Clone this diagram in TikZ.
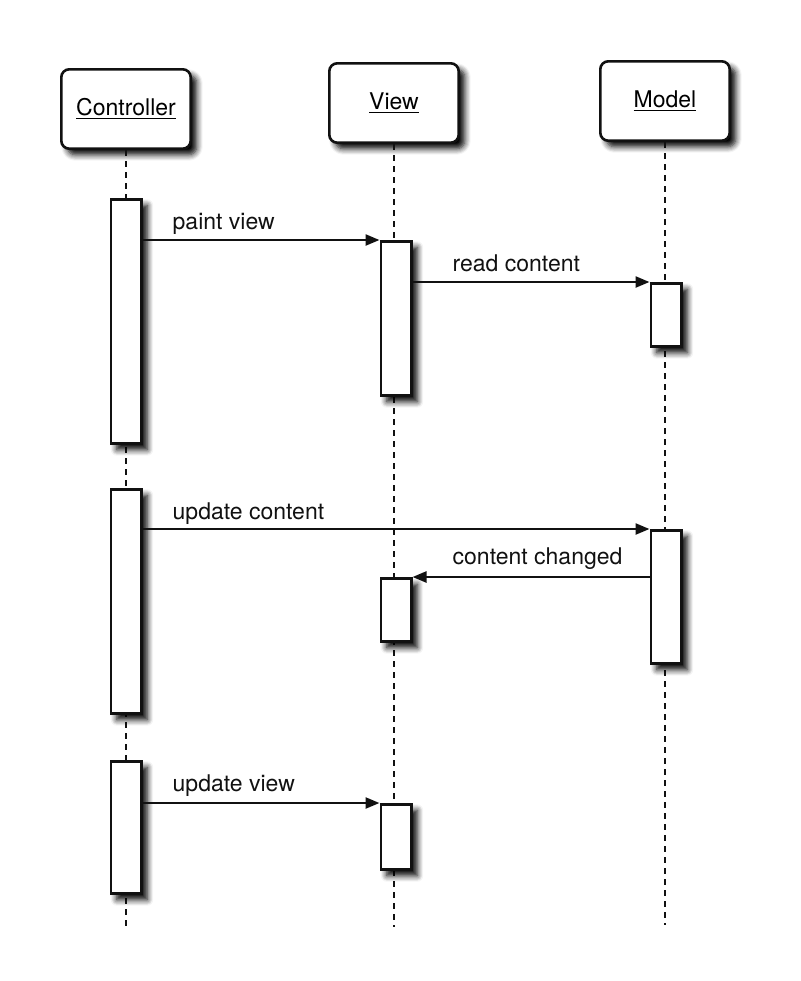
\documentclass[tikz,border=0pt]{standalone}
\usepackage{fontspec}
\setmainfont{TeX Gyre Heros}
\usetikzlibrary{arrows.meta,positioning,calc,shadows.blur}
\definecolor{Ink}{HTML}{111111}
\tikzset{
  fuzz/.style={blur shadow={shadow xshift=3pt,shadow yshift=-3pt,shadow blur radius=3pt,shadow blur steps=6,shadow opacity=100}},
  obj/.style={draw=Ink,line width=1.3pt,rounded corners=4pt,fill=white,minimum width=64.7pt,minimum height=39.7pt,font=\fontsize{11.5}{13}\selectfont,fuzz},
  bar/.style={draw=Ink,line width=1.3pt,fill=white,minimum width=15.2pt,inner sep=0pt,fuzz},
  life/.style={draw=Ink,line width=1.4pt,dash pattern=on 3pt off 2.5pt},
  msg/.style={-{Triangle[length=7pt,width=5.5pt]},line width=1.2pt,draw=Ink},
  lbl/.style={font=\fontsize{11.5}{13}\selectfont,text=Ink,anchor=base west,inner sep=0pt},
}

\begin{document}
\begin{tikzpicture}[x=0.5pt,y=-0.5pt]
 \useasboundingbox (0,0) rectangle (800,981);
 % objects
 \node[obj] (ctrl) at (126,109) {\underline{Controller}};
 \node[obj] (view) at (394,103) {\underline{View}};
 \node[obj] (model) at (665,101) {\underline{Model}};
 \coordinate (cend) at (126,930);
 \coordinate (vend) at (394,927);
 \coordinate (mend) at (665,925);
 \draw[life] (ctrl) -- (cend);
 \draw[life] (view) -- (vend);
 \draw[life] (model) -- (mend);
 % activations
 \node[bar,minimum height=122.2pt] (c1) at (126,321.5) {};
 \node[bar,minimum height=112.2pt] (c2) at (126,601.5) {};
 \node[bar,minimum height=66.2pt] (c3) at (126,827.5) {};
 \node[bar,minimum height=77.2pt] (v1) at (396,318.5) {};
 \node[bar,minimum height=31.7pt] (v2) at (396,610) {};
 \node[bar,minimum height=32.7pt] (v3) at (396,837) {};
 \node[bar,minimum height=31.7pt] (m1) at (666,315) {};
 \node[bar,minimum height=66.7pt] (m2) at (666,597) {};
 % messages
 \draw[msg] (c1.east |- v1.north) -- (v1.north west) node[lbl,pos=0,xshift=14.5pt,yshift=5.5pt] {paint view};
 \draw[msg] (v1.east |- m1.north) -- (m1.north west) node[lbl,pos=0,xshift=19.5pt,yshift=5.5pt] {read content};
 \draw[msg] (c2.east |- m2.north) -- (m2.north west) node[lbl,pos=0,xshift=14.5pt,yshift=5pt] {update content};
 \draw[msg] (m2.west |- v2.north) -- (v2.north east) node[lbl,pos=1,xshift=19.5pt,yshift=6.5pt] {content changed};
 \draw[msg] (c3.east |- v3.north) -- (v3.north west) node[lbl,pos=0,xshift=14.5pt,yshift=6pt] {update view};
\end{tikzpicture}
\end{document}
